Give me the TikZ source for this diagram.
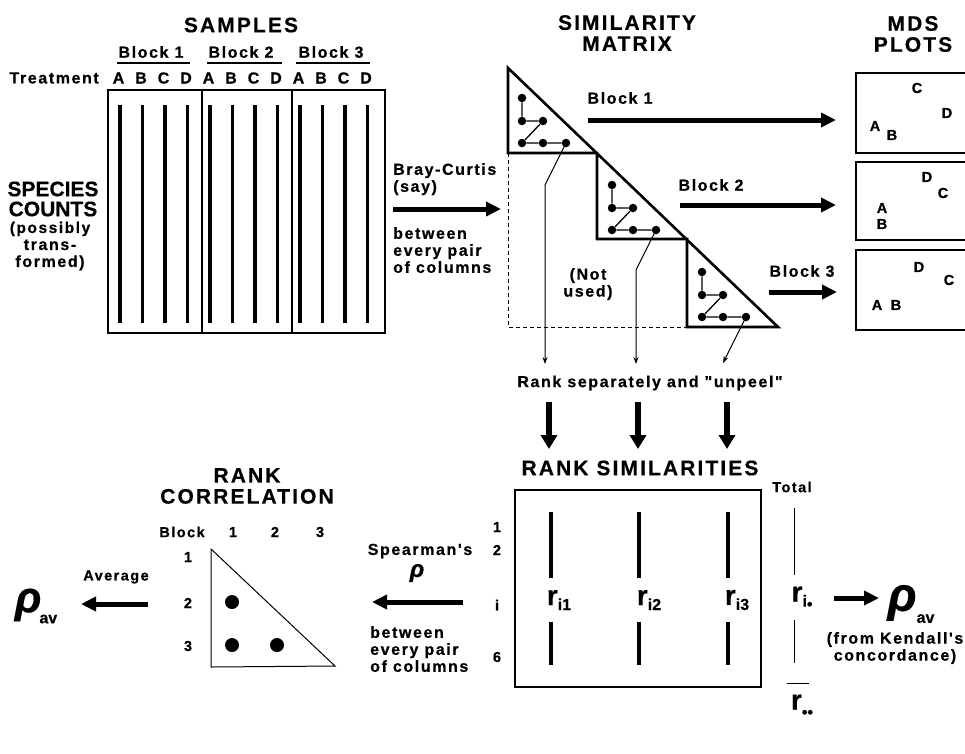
\documentclass[tikz,border=0pt]{standalone}
\usepackage{fontspec}
\setmainfont{Liberation Sans}[FakeBold=0.4]
\newfontfamily\widesans[LetterSpace=10,FakeBold=0.6]{Liberation Sans}
\newfontfamily\ttlsans[LetterSpace=10,FakeBold=0.4]{Liberation Sans}
\usetikzlibrary{arrows.meta}
\newcommand\ttlfont{\ttlsans\bfseries\fontsize{21}{21}\selectfont}
\newcommand\txtfont{\widesans\bfseries\fontsize{16}{17}\selectfont}
\newcommand\smlfont{\widesans\bfseries\fontsize{14.5}{15}\selectfont}
\newcommand\rlab[1]{{\fontsize{28}{28}\selectfont r}\raisebox{-5pt}{\fontsize{16}{16}\selectfont #1}}
\newcommand\rhoav[3]{{\fontsize{#1}{#1}\selectfont\itshape ρ}\kern#3\raisebox{-#2}{\fontsize{16}{16}\selectfont av}}
\tikzset{
  ttl/.style={font=\ttlfont, align=center, inner sep=0pt},
  txt/.style={font=\txtfont, inner sep=0pt},
  sml/.style={font=\smlfont, inner sep=0pt},
  fat/.style={line width=5pt, -{Triangle[length=15pt,width=14pt]}},
  down/.style={line width=6pt, -{Triangle[length=14pt,width=16pt]}},
  link/.style={line width=1pt, -{Stealth[length=7pt,width=5pt]}},
  col/.style={line width=3.2pt},
  dot/.style={circle, fill, inner sep=0pt, minimum size=8.5pt},
  frame/.style={line width=1.3pt},
}
\begin{document}
\begin{tikzpicture}[x=1pt, y=-1pt, font=\bfseries]
  \useasboundingbox (0,0) rectangle (965,753);
  % Samples
  \node[ttl] (samples) at (241,25) {SAMPLES};
  \node[txt, anchor=east] (treat) at (99,78) {Treatment};
  \foreach \b/\x/\ua/\ub/\bl/\br in {1/120/117/190/108/202, 2/210/207/282/202/292, 3/300/296/370/292/385} {
    \node[txt] (blk\b) at (\x+31,52) {Block \b};
    \draw[frame] (\ua,63) -- (\ub,63);
    \draw[frame] (\bl,90) rectangle (\br,333);
    \foreach \j/\l in {0/A,1/B,2/C,3/D} {
      \node[txt] (s\b\l) at (\x+22.5*\j-1.5,78) {\l};
      \draw[col] (\x+22.5*\j,105) -- (\x+22.5*\j,323);
    }
  }
  \node[font=\bfseries\fontsize{21}{20}\selectfont, align=center, inner sep=0pt] (species) at (53,199) {SPECIES\\COUNTS};
  \node[txt, align=center] (transf) at (50,246) {\fontsize{15.5}{18}\selectfont (possibly\\trans-\\formed)};
  % Bray-Curtis
  \node[txt, align=left, anchor=north west] (bray) at (393,163) {Bray-Curtis\\(say)};
  \node[txt, align=left, anchor=north west] (pairs) at (393,227) {between\\every pair\\of columns};
  \coordinate (bcA) at (393,209);
  \coordinate (bcB) at (501,209);
  \draw[fat] (bcA) -- (bcB);
  % Similarity matrix
  \node[ttl] (simmat) at (627,33) {SIMILARITY\\MATRIX};
  \draw[line width=1pt, dash pattern=on 4pt off 3pt] (508,153) -- (508,327) -- (687,327);
  \draw[line width=2.6pt, line join=miter] (508,68) -- (778,327) -- (687,327) -- (687,239)
    -- (597,239) -- (597,153) -- (508,153) -- cycle;
  \foreach \k/\dx/\dy in {1/0/0, 2/90/87, 3/180/174} {
    \begin{scope}[shift={(\dx,\dy)}]
      \node[dot] (t\k) at (522,98) {};
      \node[dot] (ml\k) at (522,121) {};
      \node[dot] (mr\k) at (543,121) {};
      \node[dot] (bl\k) at (522,143) {};
      \node[dot] (bm\k) at (543,143) {};
      \node[dot] (br\k) at (566,143) {};
    \end{scope}
    \draw[line width=1.3pt] (t\k) -- (ml\k) -- (mr\k) -- (bl\k) -- (bm\k) -- (br\k);
  }
  \node[txt, align=center] (notused) at (588,284) {(Not\\used)};
  % MDS plots
  \node[ttl] (mds) at (913,34) {MDS\\PLOTS};
  \node[txt] (m1) at (620,98) {Block 1};
  \node[txt] (m2) at (711,185) {Block 2};
  \node[txt] (m3) at (802,271) {Block 3};
  \coordinate (m1A) at (588,120); \coordinate (m1B) at (836,120);
  \coordinate (m2A) at (680,205); \coordinate (m2B) at (836,205);
  \coordinate (m3A) at (769,292); \coordinate (m3B) at (837,292);
  \draw[fat] (m1A) -- (m1B);
  \draw[fat] (m2A) -- (m2B);
  \draw[fat] (m3A) -- (m3B);
  \draw[frame] (966,73) -| (856,153) -- (966,153);
  \draw[frame] (966,162) -| (856,240) -- (966,240);
  \draw[frame] (966,250) -| (856,330) -- (966,330);
  \foreach \n/\l/\x/\y in {1C/C/917/88, 1D/D/947/113, 1A/A/875/126, 1B/B/892/135,
      2D/D/927/177, 2C/C/943/193, 2A/A/882/208, 2B/B/882/224,
      3D/D/919/267, 3C/C/949/280, 3A/A/877/305, 3B/B/896/305}
    \node[sml] (p\n) at (\x,\y) {\l};
  % Rank separately
  \node[txt] (rank) at (650,383) {Rank separately and "unpeel"};
  \coordinate (k1) at (545,185); \coordinate (e1) at (545,364);
  \coordinate (k2) at (636,270); \coordinate (e2) at (636,364);
  \coordinate (e3) at (723,363);
  \draw[link] (br1.center) -- (k1) -- (e1);
  \draw[link] (br2.center) -- (k2) -- (e2);
  \draw[link] (br3.center) -- (e3);
  \foreach \i/\x in {1/549, 2/638, 3/727} {
    \coordinate (d\i a) at (\x,402);
    \coordinate (d\i b) at (\x,449);
    \draw[down] (d\i a) -- (d\i b);
  }
  % Rank similarities
  \node[ttl] (ranksim) at (640,468) {RANK SIMILARITIES};
  \draw[line width=1.3pt] (515,490) rectangle (761,687);
  \foreach \n/\y in {1/527, 2/550, i/605, 6/657}
    \node[sml] (row\n) at (497,\y) {\n};
  \foreach \i/\x/\lx in {1/551/559, 2/639/649, 3/728/737} {
    \node (r\i) at (\lx,600) {\rlab{i\i}};
    \draw[col] (\x,512) -- (\x,578);
    \draw[col] (\x,622) -- (\x,665);
  }
  \node[sml] (total) at (792,487) {Total};
  \draw[line width=1pt] (794,508) -- (794,575);
  \draw[line width=1pt] (794,620) -- (794,663);
  \draw[line width=1pt] (787,683) -- (809,683);
  \node (rdot) at (802,598) {{\fontsize{28}{28}\selectfont r}\raisebox{-5pt}{\fontsize{16}{16}\selectfont i\raisebox{-3pt}{•}}};
  \node (rdd) at (802,706) {{\fontsize{28}{28}\selectfont r}\raisebox{-8pt}{\fontsize{16}{16}\selectfont ••}};
  \node (rhoK) at (911,604) {\rhoav{48}{12pt}{0pt}};
  \coordinate (kA) at (834,598); \coordinate (kB) at (879,598);
  \draw[fat] (kA) -- (kB);
  \node[txt, align=center] (kendall) at (895,648) {(from Kendall's\\concordance)};
  % Rank correlation
  \node[ttl] (rankcor) at (247,486) {RANK\\CORRELATION};
  \node[sml] (cblk) at (182,532) {Block};
  \foreach \n/\x in {1/233, 2/275, 3/320}
    \node[sml] (ch\n) at (\x,532) {\n};
  \foreach \n/\y in {1/557, 2/603, 3/646}
    \node[sml] (cr\n) at (188,\y) {\n};
  \draw[line width=1pt] (211,549) -- (211,667) -- (335,666) -- cycle;
  \node[dot, minimum size=14pt] (c21) at (232,602) {};
  \node[dot, minimum size=14pt] (c31) at (232,645) {};
  \node[dot, minimum size=14pt] (c32) at (277,645) {};
  \node[txt] (spear) at (420,551) {Spearman's};
  \node (sprho) at (417,573) {\fontsize{24}{24}\selectfont\itshape ρ};
  \coordinate (spA) at (463,602); \coordinate (spB) at (372,602);
  \draw[fat] (spA) -- (spB);
  \node[txt, align=left, anchor=north west] (pairs2) at (370,626) {between\\every pair\\of columns};
  \node[sml] (avg) at (116,577) {Average};
  \coordinate (avA) at (148,604); \coordinate (avB) at (81,604);
  \draw[fat] (avA) -- (avB);
  \node (rhoA) at (36,606) {\rhoav{44}{11pt}{-2pt}};
\end{tikzpicture}
\end{document}
